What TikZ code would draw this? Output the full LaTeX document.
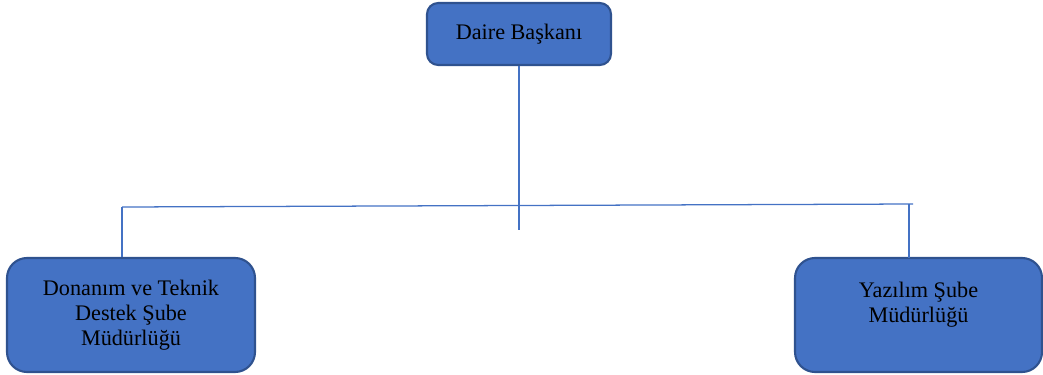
\documentclass[tikz,border=0pt]{standalone}
\usepackage{fontspec}
\setmainfont{Liberation Serif}
\usepackage{tikz}
\definecolor{boxfill}{HTML}{4472C4}
\definecolor{boxedge}{HTML}{2F528F}
\definecolor{linkblue}{HTML}{4472C4}
\pgfkeys{tikz/unitbox/.style={draw=boxedge, 
                                  fill=boxfill, 
                                  line width=1.5pt, 
                                  align=center, 
                                  text=black, 
                                  font=\fontsize{15.8}{17.8}\selectfont}}
\pgfkeys{tikz/linkline/.style={draw=linkblue, 
                                   line width=0.9pt}}
\begin{document}
\begin{tikzpicture}
                \useasboundingbox (0,0) rectangle (26.075,-9.35);

                \node[unitbox, rounded corners=0.28cm, minimum width=4.6cm, minimum height=1.55cm] (top) at (12.975, -0.85) {Daire Başkanı};

                \node[unitbox, rounded corners=0.5cm, minimum width=6.2cm, minimum height=2.85cm] (left) at (3.275, -7.875) {Donanım ve Teknik\\Destek Şube\\Müdürlüğü};
                \node[unitbox, rounded corners=0.5cm, minimum width=6.175cm, minimum height=2.85cm] (right) at (22.9625, -7.875) {Yazılım Şube\\Müdürlüğü\\\mbox{}};

                \coordinate (stem) at (12.975, -5.75);
                \coordinate (barL) at (3.05, -5.175);
                \coordinate (barR) at (22.725, -5.1);
                \coordinate (barEnd) at (22.825, -5.1);

                \draw[linkline] (top) -- (stem);
                \draw[linkline] (barL) -- (barEnd);
                \draw[linkline] (barL) -- (barL |- left.north);
                \draw[linkline] (barR) -- ([yshift=-1pt]barR |- right.north);
            \end{tikzpicture}
\end{document}
